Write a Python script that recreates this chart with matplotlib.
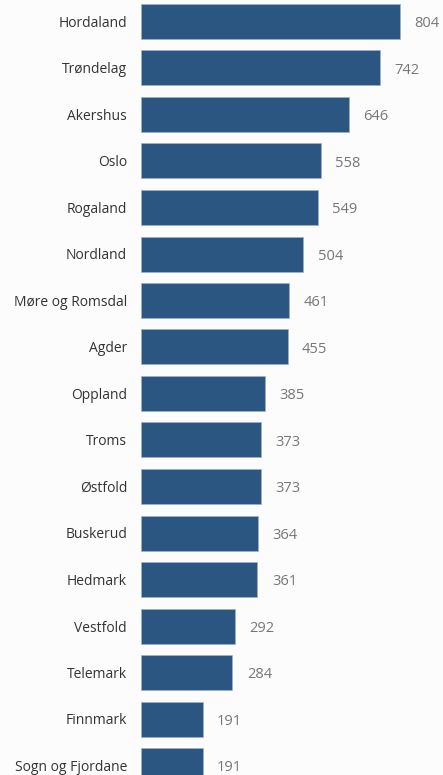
import matplotlib
matplotlib.use("Agg")
import matplotlib.pyplot as plt

fylker = ["Hordaland", "Trøndelag", "Akershus", "Oslo", "Rogaland", "Nordland",
          "Møre og Romsdal", "Agder", "Oppland", "Troms", "Østfold", "Buskerud",
          "Hedmark", "Vestfold", "Telemark", "Finnmark", "Sogn og Fjordane"]
antall = [804, 742, 646, 558, 549, 504, 461, 455, 385, 373, 373, 364, 361,
          292, 284, 191, 191]

plt.rcParams['font.family'] = ['Open Sans', 'DejaVu Sans']

W, H = 443, 775
fig = plt.figure(figsize=(W / 100, H / 100), dpi=100, facecolor='#fcfcfc')
ax = fig.add_axes([141 / W, 0, 1 - 141 / W, 1])
ax.set_facecolor('#fcfcfc')

pitch = 46.5
pos = list(range(len(fylker)))
ax.barh(pos, antall, height=35 / pitch, color='#2b5682', edgecolor='#9fb3c8',
        linewidth=0.5)
for p, v in zip(pos, antall):
    ax.annotate(str(v), xy=(v, p), xytext=(10.5, -1.5), textcoords='offset points',
                ha='left', va='center', fontsize=10.5, color='#777777')

ax.set_xlim(0, (W - 141) / 0.322)
ax.set_ylim((H - 21.5) / pitch, -21.5 / pitch)
ax.set_yticks(pos)
ax.set_yticklabels(fylker, fontsize=10, color='#333333')
ax.tick_params(axis='y', length=0, pad=10)
ax.set_xticks([])
for s in ax.spines.values():
    s.set_visible(False)

fig.savefig('out.png', dpi=100, facecolor=fig.get_facecolor())
